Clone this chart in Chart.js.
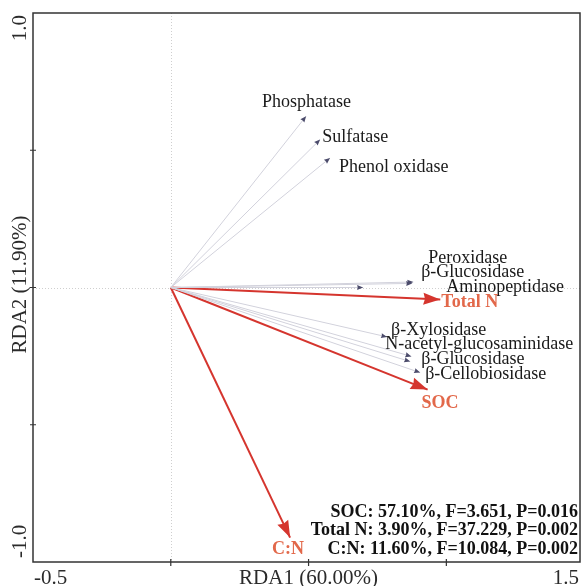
<!DOCTYPE html>
<html>
<head>
<meta charset="utf-8">
<script src="https://cdn.jsdelivr.net/npm/chart.js@4.4.1/dist/chart.umd.min.js"></script>
<style>
  html, body { margin: 0; padding: 0; background: #fff; }
  canvas { display: block; }
</style>
</head>
<body>
<canvas id="chart" width="584" height="586"></canvas>
<script>
// enzyme vectors (response variables)
const enzymeNames = ['Phosphatase', 'Sulfatase', 'Phenol oxidase', 'Peroxidase', 'β-Glucosidase', 'Aminopeptidase',
    'β-Xylosidase', 'N-acetyl-glucosaminidase', 'β-Glucosidase', 'β-Cellobiosidase'];
const enzymeRDA1 = [0.491, 0.542, 0.578, 0.880, 0.876, 0.698, 0.785, 0.873, 0.869, 0.905];
const enzymeRDA2 = [0.624, 0.539, 0.472, 0.020, 0.015, 0.000, -0.180, -0.251, -0.270, -0.310];

// soil properties (explanatory variables)
const envNames = ['Total N', 'SOC', 'C:N'];
const envRDA1 = [0.978, 0.932, 0.433];
const envRDA2 = [-0.044, -0.372, -0.911];

const statLines = [
    'SOC: 57.10%, F=3.651, P=0.016',
    'Total N: 3.90%, F=37.229, P=0.002',
    'C:N: 11.60%, F=10.084, P=0.002'
];

const xTickLabels = [-0.5, 1.5];
const yTickLabels = [1.0, -1.0];
const xTickMarks = [0, 0.5, 1.0];
const yTickMarks = [-0.5, 0, 0.5];

// label nudges in px from the arrow tip
const enzymeNudge = [[-44, -14], [2, -2], [9, 9], [15, -24], [9, -11], [83, 0], [4, -7], [-26, -12], [11, -2], [5, 2]];
const envNudge = [[1, 3], [-6, 14], [-18, 12]];

const SERIF = '"Liberation Serif", "Times New Roman", serif';
const RED = '#d5352e';
const RED_TEXT = '#e2684a';

function arrowDataset(x, y, color, width, kind) {
    return {
        data: [{ x: 0, y: 0 }, { x: x, y: y }],
        showLine: true,
        borderColor: color,
        borderWidth: width,
        pointRadius: 0,
        kind: kind
    };
}

let datasets = [];
enzymeNames.forEach((n, i) => {
    datasets.push(arrowDataset(enzymeRDA1[i], enzymeRDA2[i], '#d2d2dc', 1, 'enzyme'));
});
envNames.forEach((n, i) => {
    datasets.push(arrowDataset(envRDA1[i], envRDA2[i], RED, 2, 'env'));
});

function drawHead(ctx, from, to, len, half, color) {
    const a = Math.atan2(to.y - from.y, to.x - from.x);
    ctx.save();
    ctx.translate(to.x, to.y);
    ctx.rotate(a);
    ctx.beginPath();
    ctx.moveTo(0, 0);
    ctx.lineTo(-len, -half);
    ctx.lineTo(-len * 0.9, 0);
    ctx.lineTo(-len, half);
    ctx.closePath();
    ctx.fillStyle = color;
    ctx.fill();
    ctx.restore();
}

const framePlugin = {
    id: 'frame',
    beforeDatasetsDraw(chart) {
        const { ctx, chartArea: a, scales: { x, y } } = chart;
        ctx.save();
        ctx.strokeStyle = '#cfcfcf';
        ctx.lineWidth = 1;
        ctx.setLineDash([1, 2]);
        const x0 = Math.round(x.getPixelForValue(0)) + 0.5;
        const y0 = Math.round(y.getPixelForValue(0)) + 0.5;
        ctx.beginPath();
        ctx.moveTo(x0, a.top); ctx.lineTo(x0, a.bottom);
        ctx.moveTo(a.left, y0); ctx.lineTo(a.right, y0);
        ctx.stroke();
        ctx.restore();
    },
    afterDatasetsDraw(chart) {
        const { ctx, chartArea: a, scales: { x, y } } = chart;

        // arrow heads and labels
        chart.data.datasets.forEach((ds, i) => {
            const pts = chart.getDatasetMeta(i).data;
            const from = pts[0], to = pts[1];
            ctx.textAlign = 'left';
            ctx.textBaseline = 'middle';
            if (ds.kind === 'enzyme') {
                drawHead(ctx, from, to, 6, 2.5, '#4b4b6b');
                ctx.font = '18px ' + SERIF;
                ctx.fillStyle = '#1a1a1a';
                ctx.fillText(enzymeNames[i], to.x + enzymeNudge[i][0], to.y + enzymeNudge[i][1]);
            } else {
                drawHead(ctx, from, to, 17, 6, RED);
                const k = i - enzymeNames.length;
                ctx.font = 'bold 18px ' + SERIF;
                ctx.fillStyle = RED_TEXT;
                ctx.fillText(envNames[k], to.x + envNudge[k][0], to.y + envNudge[k][1]);
            }
        });

        // frame
        ctx.save();
        ctx.strokeStyle = '#333';
        ctx.lineWidth = 1.5;
        ctx.strokeRect(a.left, a.top, a.right - a.left, a.bottom - a.top);
        ctx.lineWidth = 1.2;
        ctx.beginPath();
        xTickMarks.forEach(v => {
            const px = x.getPixelForValue(v);
            ctx.moveTo(px, a.bottom - 3); ctx.lineTo(px, a.bottom + 4);
        });
        yTickMarks.forEach(v => {
            const py = y.getPixelForValue(v);
            ctx.moveTo(a.left - 3, py); ctx.lineTo(a.left + 3, py);
        });
        ctx.stroke();

        // axis text
        ctx.fillStyle = '#2b2b2b';
        ctx.font = '21px ' + SERIF;
        ctx.textBaseline = 'alphabetic';
        ctx.textAlign = 'left';
        ctx.fillText(xTickLabels[0].toFixed(1), a.left + 1, 584);
        ctx.textAlign = 'right';
        ctx.fillText(xTickLabels[1].toFixed(1), a.right - 1, 584);
        ctx.textAlign = 'center';
        ctx.fillText('RDA1 (60.00%)', (a.left + a.right) / 2 + 2, 584);

        ctx.save();
        ctx.translate(26, 0);
        ctx.rotate(-Math.PI / 2);
        ctx.textAlign = 'right';
        ctx.fillText(yTickLabels[0].toFixed(1), -a.top - 2, 0);
        ctx.textAlign = 'left';
        ctx.fillText(yTickLabels[1].toFixed(1), -a.bottom + 4, 0);
        ctx.textAlign = 'center';
        ctx.fillText('RDA2 (11.90%)', -y.getPixelForValue(0) + 3, 0);
        ctx.restore();

        // stats
        ctx.fillStyle = '#111';
        ctx.font = 'bold 18px ' + SERIF;
        ctx.textAlign = 'right';
        ctx.textBaseline = 'middle';
        statLines.forEach((t, i) => {
            ctx.fillText(t, a.right - 2, 512 + i * 18.5);
        });
        ctx.restore();
    }
};

const ctx = document.getElementById('chart').getContext('2d');

const chart = new Chart(ctx, {
    type: 'scatter',
    data: { datasets: datasets },
    options: {
        responsive: false,
        animation: false,
        layout: { padding: { top: 13, right: 4, left: 0, bottom: 0 } },
        plugins: {
            legend: { display: false },
            tooltip: { enabled: false }
        },
        scales: {
            x: {
                type: 'linear',
                min: -0.5,
                max: 1.485,
                ticks: { display: false },
                grid: { display: false },
                border: { display: false },
                afterFit: s => { s.height = 24; }
            },
            y: {
                type: 'linear',
                min: -1,
                max: 1,
                ticks: { display: false },
                grid: { display: false },
                border: { display: false },
                afterFit: s => { s.width = 33; }
            }
        }
    },
    plugins: [framePlugin]
});
</script>
</body>
</html>
